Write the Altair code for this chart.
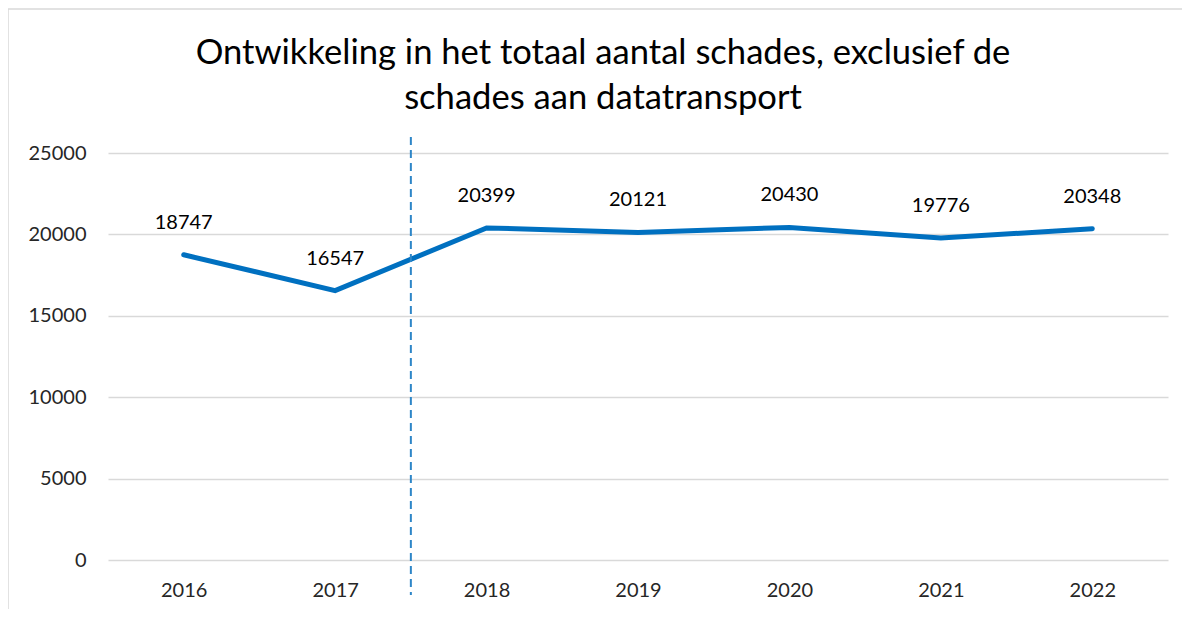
import altair as alt
import pandas as pd

years = [2016, 2017, 2018, 2019, 2020, 2021, 2022]
values = [18747, 16547, 20399, 20121, 20430, 19776, 20348]
separator_between = (2017, 2018)
title_lines = ["Ontwikkeling in het totaal aantal schades, exclusief de", "schades aan datatransport"]

df = pd.DataFrame({"year": years, "value": values})
sep_df = pd.DataFrame({"x": [sum(separator_between) / 2]})
frame_df = pd.DataFrame({"a": [0]})

W, H = 1060, 407
FONT = "Lato"

xscale = alt.Scale(domain=[years[0] - 0.5, years[-1] + 0.5], nice=False, zero=False)
yscale = alt.Scale(domain=[0, 25000], nice=False)

x_enc = alt.X("year:Q", scale=xscale,
              axis=alt.Axis(values=years, format="d", title=None, grid=False, domain=False,
                            ticks=False, labelPadding=20, labelFontSize=20, labelFont=FONT,
                            labelColor="#262626"))
y_enc = alt.Y("value:Q", scale=yscale,
              axis=alt.Axis(values=[0, 5000, 10000, 15000, 20000, 25000], format="d", title=None,
                            grid=True, gridColor="#D9D9D9", gridWidth=1.5, domain=False, ticks=False,
                            labelPadding=22, labelFontSize=20, labelFont=FONT, labelColor="#262626"))

base = alt.Chart(df)
line = base.mark_line(color="#0070C0", strokeWidth=5, strokeCap="round").encode(x=x_enc, y=y_enc)
labels = base.mark_text(dy=-32, fontSize=20, font=FONT, color="#000000").encode(
    x=alt.X("year:Q", scale=xscale), y=alt.Y("value:Q", scale=yscale),
    text=alt.Text("value:Q", format="d"))
sep = alt.Chart(sep_df).mark_rule(color="#2E86C8", strokeWidth=2, strokeDash=[8, 5]).encode(
    x=alt.X("x:Q", scale=xscale), y=alt.value(-16), y2=alt.value(H + 35))
frame = alt.Chart(frame_df).mark_rect(fill=None, stroke="#D9D9D9", strokeWidth=1.5).encode(
    x=alt.value(-100), y=alt.value(-144), x2=alt.value(W + 60), y2=alt.value(H + 90))

chart = alt.layer(frame, line, labels, sep).properties(
    width=W, height=H,
    background="white",
    autosize=alt.AutoSizeParams(type="none"),
    padding={"left": 100, "top": 145, "right": 14, "bottom": 49},
    title=alt.TitleParams(title_lines, fontSize=34.6, font=FONT, fontWeight="normal", color="#000000",
                          anchor="middle", frame="group", dx=-35, offset=-108, lineHeight=45),
).configure_view(strokeOpacity=0, strokeWidth=0).configure_axis(domain=False, ticks=False)

chart.save("out.html", embed_options={"renderer": "svg", "actions": False})
